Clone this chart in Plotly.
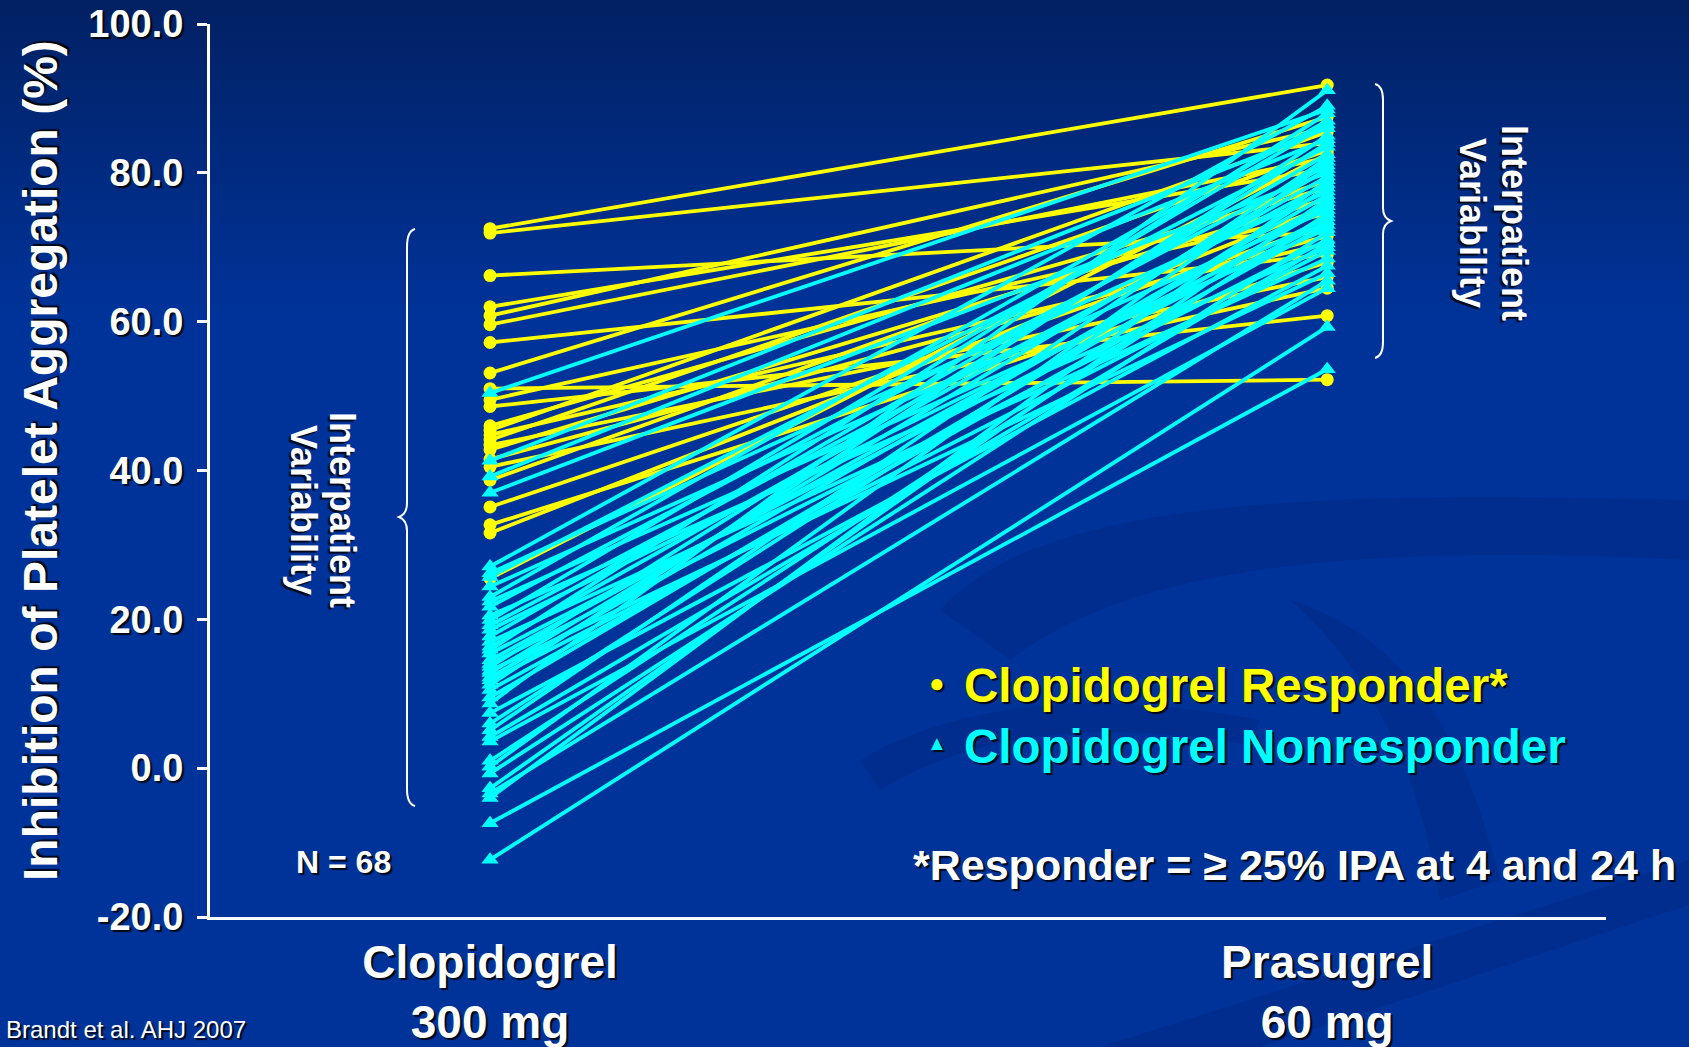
import plotly.graph_objects as go

# ---- data -------------------------------------------------------------
categories = ["Clopidogrel<br>300 mg", "Prasugrel<br>60 mg"]
y_ticks = [-20, 0, 20, 40, 60, 80, 100]
y_tick_labels = ["-20.0", "0.0", "20.0", "40.0", "60.0", "80.0", "100.0"]

# IPA (%) per patient: clopidogrel 300 mg -> prasugrel 60 mg
responder_clop = [72.5, 71.9, 66.2, 62.0, 60.8, 59.6, 57.2, 53.1, 51.0, 49.5,
                  48.6, 46.0, 45.4, 44.8, 44.1, 43.4, 42.8, 41.5, 40.5, 38.7,
                  35.1, 32.7, 31.6, 25.5]
responder_pras = [91.8, 84.0, 72.0, 80.5, 86.0, 82.0, 69.0, 87.5, 52.2, 74.5,
                  60.8, 78.0, 85.5, 70.5, 83.0, 66.0, 76.5, 71.5, 64.5, 79.0,
                  73.0, 68.0, 75.5, 82.5]

nonresp_clop = [50.4, 41.3, 39.2, 37.0, 27.1, 26.2, 25.7, 24.4, 23.0, 22.4,
                21.7, 20.5, 19.9, 19.2, 18.6, 17.7, 17.0, 16.3, 15.9, 15.4,
                14.5, 14.0, 13.6, 13.1, 12.8, 12.2, 11.8, 11.2, 10.5, 9.5,
                8.7, 7.4, 6.0, 5.1, 4.2, 3.6, 1.0, 0.2, -0.7, -2.7,
                -3.4, -4.0, -7.4, -12.3]
nonresp_pras = [88.5, 86.0, 84.5, 80.0, 89.0, 77.5, 83.5, 75.0, 87.0, 72.5,
                81.0, 70.0, 86.5, 78.5, 74.0, 82.5, 68.5, 79.5, 88.0, 73.5,
                76.0, 71.0, 84.0, 66.5, 80.5, 77.0, 69.5, 85.0, 73.0, 75.5,
                91.1, 67.5, 78.0, 82.0, 70.5, 64.5, 74.5, 81.5, 72.0, 76.5,
                65.5, 79.0, 53.6, 59.3]

YELLOW = "#FFFF00"
CYAN = "#00FFFF"
WHITE = "#FFFFFF"
SHADOW = "2px 2px 1px rgba(0,0,0,0.85)"
FONT = "Liberation Sans, Arial, sans-serif"

W, H = 1689, 1047
M_L, M_R, M_T, M_B = 210, 83, 24, 130
PW, PH = W - M_L - M_R, H - M_T - M_B


def px_x(px):
    """Canvas pixel column -> paper x."""
    return (px - M_L) / PW


def px_y(py):
    """Canvas pixel row -> paper y."""
    return (H - M_B - py) / PH


def paired(before, after):
    xs, ys = [], []
    for a, b in zip(before, after):
        xs += [0, 1, None]
        ys += [a, b, None]
    return xs, ys


fig = go.Figure()

xr, yr = paired(responder_clop, responder_pras)
fig.add_trace(go.Scatter(
    x=xr, y=yr, mode="lines+markers", name="Clopidogrel Responder*",
    line=dict(color=YELLOW, width=3.8),
    marker=dict(symbol="circle", size=13, color=YELLOW),
    hoverinfo="y", showlegend=False))

xn, yn = paired(nonresp_clop, nonresp_pras)
fig.add_trace(go.Scatter(
    x=xn, y=yn, mode="lines+markers", name="Clopidogrel Nonresponder",
    line=dict(color=CYAN, width=3.8),
    marker=dict(symbol="triangle-up", size=15, color=CYAN),
    hoverinfo="y", showlegend=False))

# ---- background: vertical gradient + soft swirls ----------------------
shapes = []
top_rgb, base_rgb = (2, 33, 100), (0, 51, 153)
n_bands, grad_h = 40, 320
for i in range(n_bands):
    t = i / (n_bands - 1)
    c = tuple(round(top_rgb[k] + (base_rgb[k] - top_rgb[k]) * t) for k in range(3))
    y0 = i * grad_h / n_bands - (2 if i == 0 else 0)
    y1 = (i + 1) * grad_h / n_bands + 1
    shapes.append(dict(type="rect", xref="paper", yref="paper", layer="below",
                       x0=px_x(-2), x1=px_x(W + 2), y0=px_y(y1), y1=px_y(y0),
                       fillcolor="rgb(%d,%d,%d)" % c, line=dict(width=0)))


def path_px(points_cmds):
    out = []
    for cmd, pts in points_cmds:
        coords = " ".join("%.5f,%.5f" % (px_x(x), px_y(y)) for x, y in pts)
        out.append(cmd + " " + coords)
    return " ".join(out)


swirls = [
    # broad dark ribbon sweeping to the right edge
    [("M", [(940, 610)]), ("C", [(1040, 500), (1300, 490), (W, 500)]),
     ("L", [(W, 560)]), ("C", [(1380, 545), (1140, 560), (1010, 660)]), ("Z", [])],
    # descending arc on the right
    [("M", [(1290, 600)]), ("C", [(1420, 640), (1470, 760), (1500, 880)]),
     ("L", [(1440, 900)]), ("C", [(1420, 780), (1380, 680), (1290, 600)]), ("Z", [])],
    # lower diagonal band
    [("M", [(1100, H)]), ("L", [(W, 860)]), ("L", [(W, 905)]),
     ("L", [(1260, H)]), ("Z", [])],
    [("M", [(860, 760)]), ("C", [(960, 700), (1100, 690), (1260, 720)]),
     ("L", [(1250, 745)]), ("C", [(1100, 720), (980, 730), (880, 790)]), ("Z", [])],
]
for sw in swirls:
    shapes.append(dict(type="path", xref="paper", yref="paper", layer="below",
                       path=path_px(sw), fillcolor="rgba(0,20,90,0.16)",
                       line=dict(width=0)))

# curly braces marking the spread of each group
brace_left = [("M", [(415, 229)]), ("Q", [(407, 231), (407, 247)]),
              ("L", [(407, 503)]), ("Q", [(407, 514), (399, 517)]),
              ("Q", [(407, 520), (407, 531)]), ("L", [(407, 789)]),
              ("Q", [(407, 804), (415, 806)])]
brace_right = [("M", [(1375, 84)]), ("Q", [(1383, 86), (1383, 100)]),
               ("L", [(1383, 208)]), ("Q", [(1383, 218), (1391, 221)]),
               ("Q", [(1383, 224), (1383, 234)]), ("L", [(1383, 342)]),
               ("Q", [(1383, 356), (1375, 358)])]
for br in (brace_left, brace_right):
    shapes.append(dict(type="path", xref="paper", yref="paper", layer="above",
                       path=path_px(br), line=dict(color=WHITE, width=2)))


# ---- text -------------------------------------------------------------
def note(text, x, y, size, color=WHITE, angle=0, xanchor="center",
         yanchor="middle", weight="bold"):
    return dict(text=text, x=px_x(x), y=px_y(y), xref="paper", yref="paper",
                showarrow=False, textangle=angle, xanchor=xanchor,
                yanchor=yanchor,
                font=dict(family=FONT, size=size, color=color,
                          weight=weight, shadow=SHADOW))


annotations = [
    note("Inhibition of Platelet Aggregation (%)", 40, 461, 48, angle=-90),
    note("Interpatient", 342, 510, 36, angle=90),
    note("Variability", 303, 510, 36, angle=90),
    note("Interpatient", 1514, 223, 36, angle=90),
    note("Variability", 1472, 223, 36, angle=90),
    note("N = 68", 343, 862, 32),
    note("\u25CF", 937, 683, 26, color=YELLOW),
    note("Clopidogrel Responder*", 962, 685, 47.5, color=YELLOW, xanchor="left"),
    note("\u25B2", 937, 743, 20, color=CYAN),
    note("Clopidogrel Nonresponder", 962, 746, 47.5, color=CYAN, xanchor="left"),
    note("*Responder = \u2265 25% IPA at 4 and 24 h", 1678, 865, 43,
         xanchor="right"),
    note("Brandt et al. AHJ 2007", 4, 1045, 24, xanchor="left",
         yanchor="bottom", weight="normal"),
]

fig.update_layout(
    width=W, height=H,
    margin=dict(l=M_L, r=M_R, t=M_T, b=M_B, autoexpand=False),
    paper_bgcolor="rgb(0,51,153)",
    plot_bgcolor="rgba(0,0,0,0)",
    shapes=shapes,
    annotations=annotations,
    showlegend=False,
    xaxis=dict(
        range=[-0.3345, 1.333], tickvals=[0, 1], ticktext=categories,
        automargin=False,
        showgrid=False, zeroline=False, showline=True, linecolor=WHITE,
        linewidth=3, ticks="", ticklabelstandoff=3,
        tickfont=dict(family=FONT, size=46, color=WHITE, weight="bold",
                      shadow=SHADOW),
    ),
    yaxis=dict(
        range=[-20, 100], tickvals=y_ticks, ticktext=y_tick_labels,
        automargin=False,
        showgrid=False, zeroline=False, showline=True, linecolor=WHITE,
        linewidth=3, ticks="outside", ticklen=10, tickwidth=3,
        tickcolor=WHITE, ticklabelstandoff=6,
        tickfont=dict(family=FONT, size=38, color=WHITE, weight="bold",
                      shadow=SHADOW),
    ),
)

fig.write_html("out.html")
